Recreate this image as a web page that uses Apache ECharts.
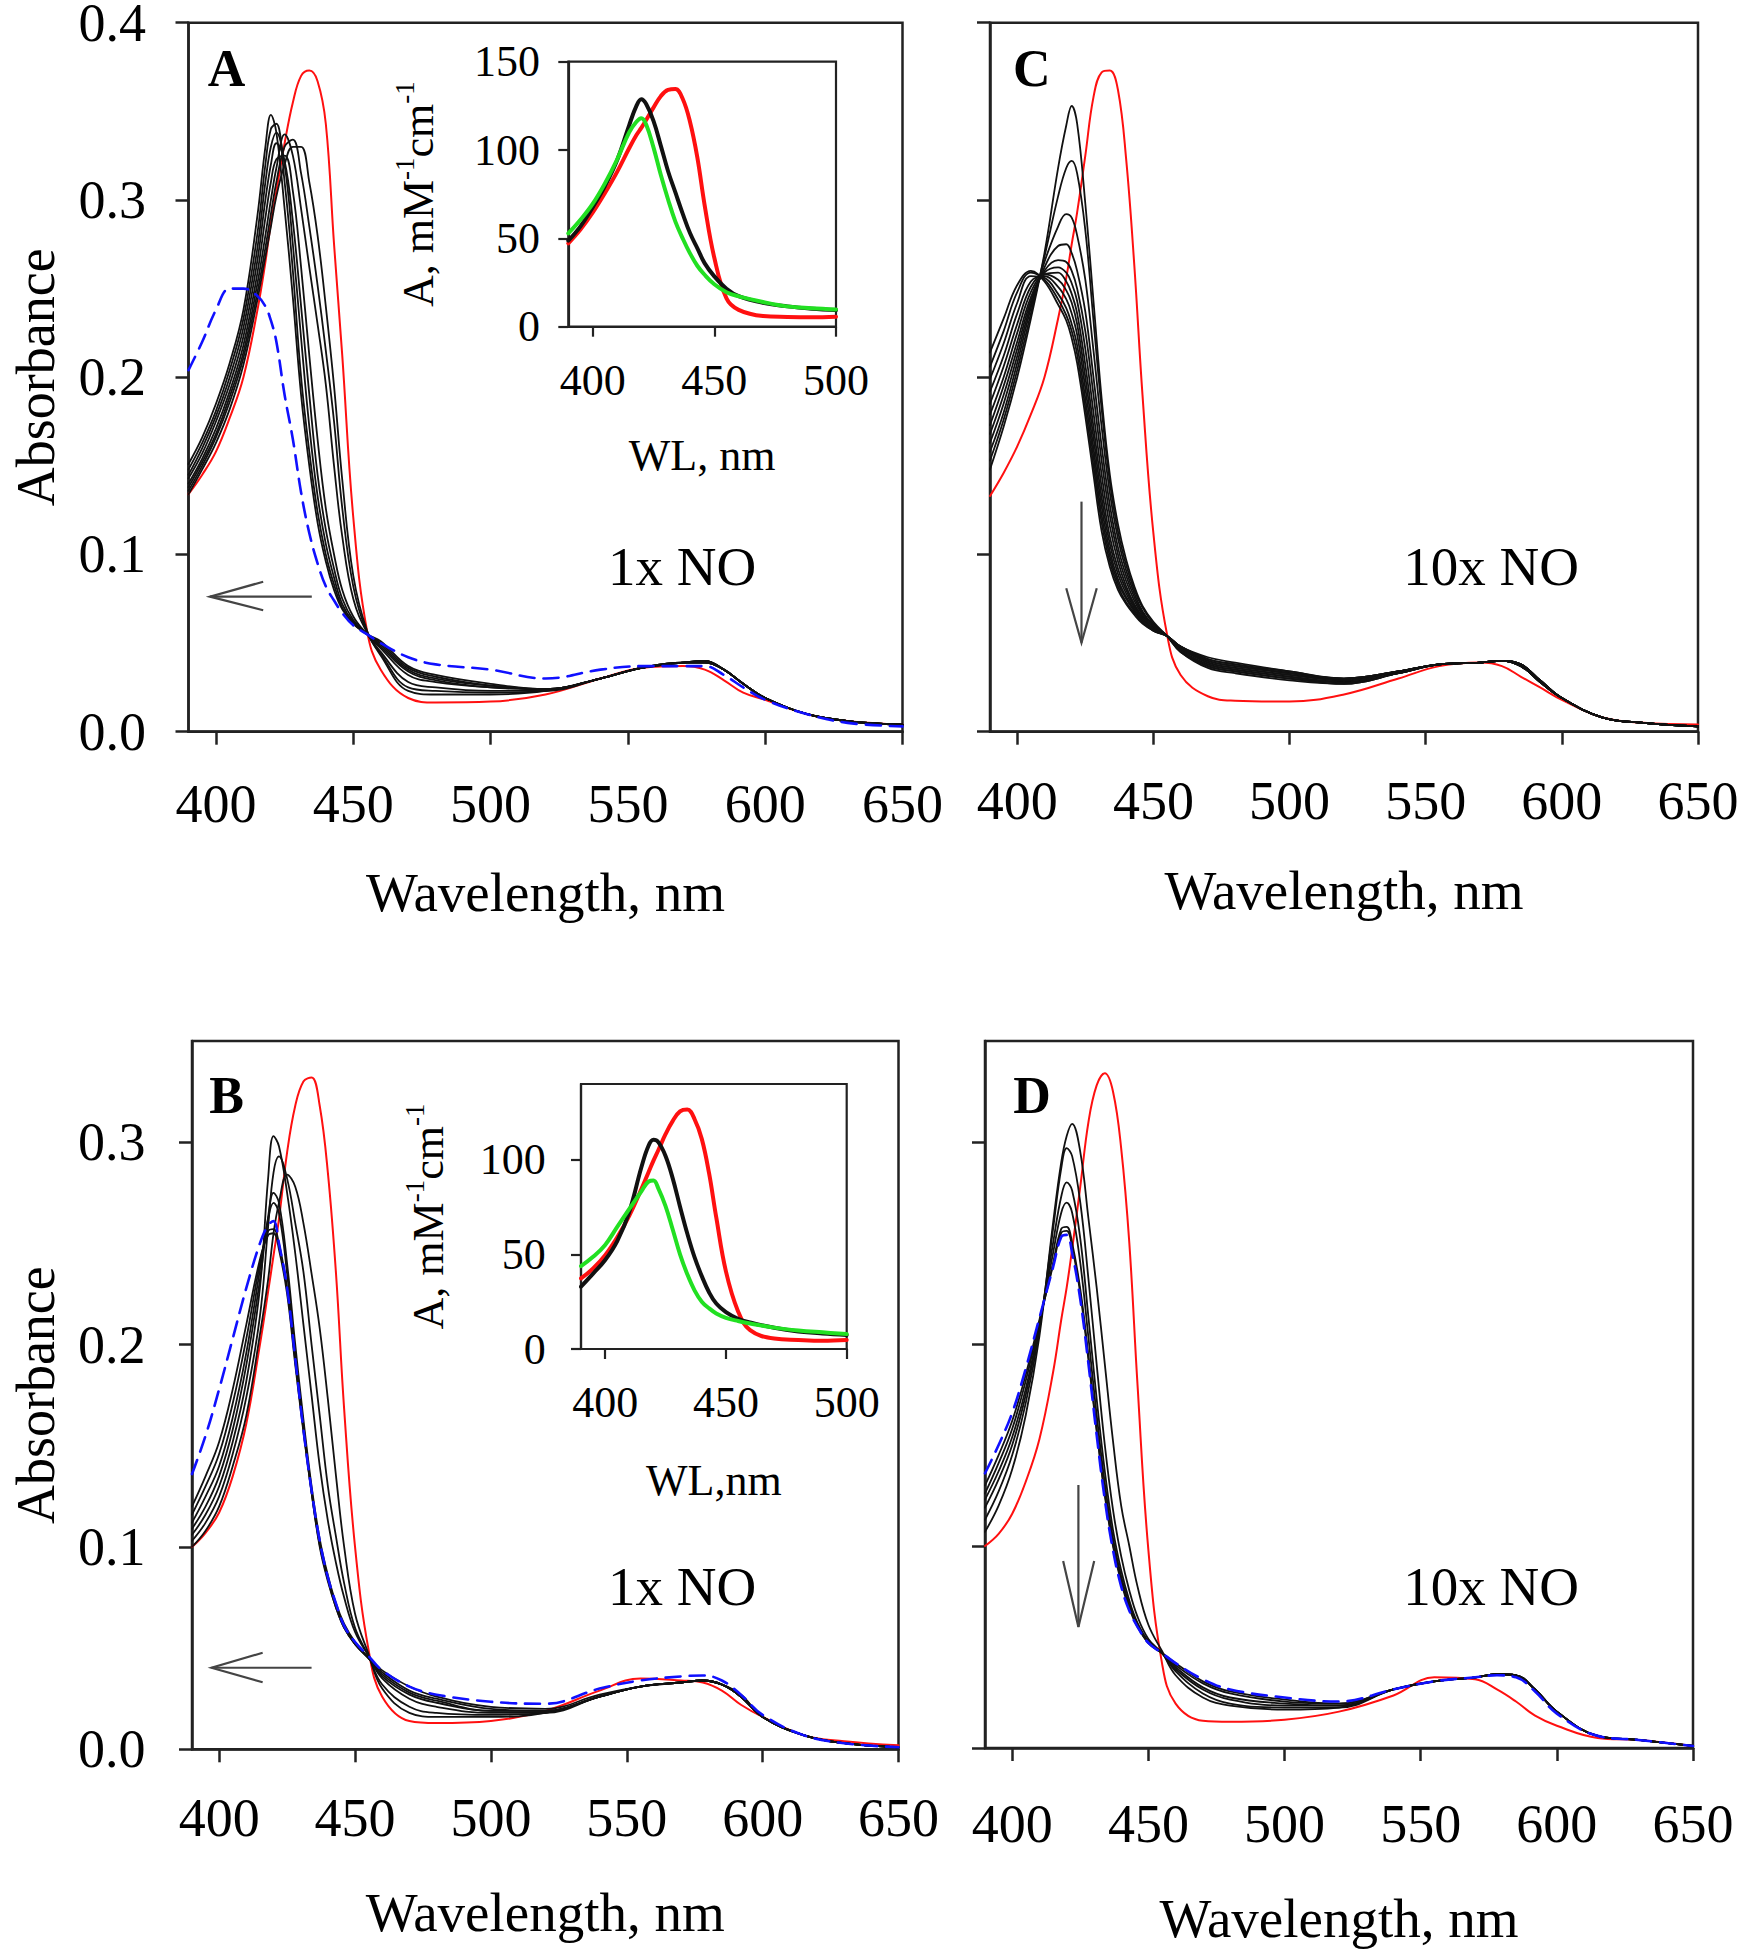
<!DOCTYPE html>
<html><head><meta charset="utf-8">
<script src="https://cdn.jsdelivr.net/npm/echarts@6/dist/echarts.min.js"></script>
<style>html,body{margin:0;padding:0;background:#fff}#c{width:1740px;height:1950px}</style>
</head><body><div id="c"></div>
<script>
// ---------- wavelength grids & tick labels ----------
const WL = [390,395,400,405,410,415,418,420,422,425,428,431,434,437,440,443,446,450,455,460,470,480,500,520,540,555,570,578,585,592,600,615,630,650];
const WLi = [390,395,400,405,410,415,418,420,422,425,428,431,434,437,440,443,446,450,455,460,470,480,490,500];
const xTicksMain = [400,450,500,550,600,650];
const xTicksInset = [400,450,500];
const yTicksAC = [0,0.1,0.2,0.3,0.4];
const yTicksBD = [0,0.1,0.2,0.3];
const yTicksInsetA = [0,50,100,150];
const yTicksInsetB = [0,50,100];

// ---------- Panel A (1x NO) ----------
const redA = [.134,.145,.158,.177,.200,.237,.265,.287,.305,.332,.355,.370,.373,.367,.343,.275,.212,.121,.057,.035,.019,.0165,.017,.021,.030,.036,.037,.035,.029,.022,.018,.010,.006,.004];
const blkA1 = [.134,.148,.163,.182,.207,.243,.268,.285,.302,.320,.330,.330,.310,.280,.240,.195,.142,.088,.057,.043,.023,.021,.021,.023,.030,.036,.039,.040,.035,.027,.019,.010,.006,.004];
const blkA2 = [.136,.150,.166,.186,.211,.247,.273,.292,.310,.330,.334,.315,.285,.252,.215,.175,.126,.082,.056,.044,.025,.023,.022,.023,.030,.036,.039,.040,.035,.027,.019,.010,.006,.004];
const blkA3 = [.138,.152,.168,.189,.214,.252,.280,.300,.318,.337,.325,.295,.262,.230,.196,.150,.110,.075,.056,.045,.028,.025,.023,.023,.030,.036,.039,.040,.035,.027,.019,.010,.006,.004];
const blkA4 = [.140,.154,.171,.192,.218,.258,.290,.310,.323,.325,.305,.262,.212,.165,.126,.100,.080,.065,.055,.047,.032,.028,.025,.024,.030,.036,.039,.040,.035,.027,.019,.010,.006,.004];
const blkA5 = [.143,.157,.175,.196,.223,.265,.300,.320,.332,.322,.288,.240,.190,.145,.114,.092,.075,.063,.055,.048,.034,.029,.025,.024,.030,.036,.039,.039,.035,.027,.019,.010,.006,.004];
const blkA6 = [.145,.160,.178,.200,.228,.272,.310,.330,.338,.320,.275,.222,.172,.133,.106,.087,.072,.062,.055,.049,.035,.030,.026,.024,.030,.036,.039,.039,.035,.027,.019,.010,.006,.004];
const blkA7 = [.148,.163,.181,.204,.233,.280,.320,.340,.343,.310,.260,.200,.158,.124,.100,.083,.070,.061,.055,.050,.036,.031,.026,.024,.030,.036,.039,.039,.035,.027,.019,.010,.006,.004];
const blkA8 = [.151,.166,.185,.208,.238,.290,.330,.348,.338,.295,.245,.190,.150,.118,.096,.080,.069,.061,.055,.051,.037,.032,.027,.024,.030,.036,.039,.039,.035,.027,.019,.010,.006,.004];
const blueA = [.204,.220,.238,.250,.250,.246,.240,.232,.220,.190,.165,.135,.112,.095,.082,.074,.067,.060,.055,.050,.042,.038,.035,.030,.035,.037,.037,.037,.032,.025,.018,.010,.005,.003];

// ---------- Panel C (10x NO) ----------
const redC = [.133,.146,.161,.179,.200,.233,.256,.275,.293,.325,.358,.372,.373,.362,.323,.263,.190,.112,.055,.032,.020,.0175,.017,.021,.030,.037,.039,.037,.031,.025,.018,.008,.005,.004];
const blkC1 = [.148,.172,.200,.233,.270,.318,.342,.353,.343,.298,.243,.188,.145,.117,.097,.082,.071,.062,.054,.045,.036,.033,.029,.027,.033,.038,.039,.040,.037,.028,.019,.008,.005,.003];
const blkC2 = [.153,.176,.204,.236,.268,.302,.318,.322,.315,.283,.232,.182,.141,.113,.094,.080,.070,.061,.054,.045,.037,.034,.030,.027,.033,.038,.039,.040,.037,.028,.019,.008,.005,.003];
const blkC3 = [.158,.180,.208,.239,.265,.285,.292,.290,.280,.255,.215,.172,.135,.109,.091,.078,.068,.060,.054,.046,.037,.034,.030,.028,.033,.038,.039,.040,.037,.028,.019,.008,.005,.003];
const blkC4 = [.163,.185,.212,.241,.262,.274,.275,.270,.260,.237,.200,.161,.128,.104,.088,.076,.067,.060,.054,.046,.038,.035,.031,.028,.033,.038,.039,.040,.037,.028,.019,.008,.005,.003];
const blkC5 = [.168,.190,.216,.243,.260,.266,.265,.260,.250,.226,.190,.153,.122,.100,.085,.074,.066,.059,.054,.046,.038,.035,.031,.028,.033,.038,.039,.040,.037,.028,.019,.008,.005,.003];
const blkC6 = [.173,.195,.220,.245,.259,.262,.259,.253,.243,.216,.180,.145,.116,.096,.082,.072,.065,.059,.054,.047,.039,.036,.032,.029,.034,.038,.039,.040,.037,.028,.019,.008,.005,.003];
const blkC7 = [.179,.200,.225,.248,.258,.259,.254,.247,.236,.207,.172,.138,.110,.092,.080,.071,.064,.058,.054,.047,.039,.036,.032,.029,.034,.038,.039,.040,.037,.029,.019,.008,.005,.003];
const blkC8 = [.185,.206,.230,.251,.258,.255,.249,.242,.230,.200,.166,.132,.106,.089,.078,.070,.064,.058,.054,.047,.040,.037,.033,.029,.034,.038,.039,.040,.038,.029,.019,.008,.005,.003];
const blkC9 = [.192,.212,.236,.254,.257,.251,.244,.236,.224,.194,.160,.127,.102,.086,.076,.069,.063,.058,.054,.048,.040,.037,.033,.030,.034,.038,.039,.040,.038,.029,.019,.008,.005,.003];
const blkC10 = [.199,.219,.242,.257,.256,.247,.239,.230,.218,.188,.155,.122,.099,.084,.075,.068,.062,.057,.054,.048,.041,.038,.033,.030,.034,.038,.039,.040,.038,.029,.019,.008,.005,.003];
const blkC11 = [.206,.226,.248,.259,.255,.244,.235,.226,.213,.183,.150,.118,.096,.082,.073,.067,.062,.057,.054,.048,.041,.038,.034,.030,.034,.038,.039,.040,.038,.029,.019,.008,.005,.003];
const blkC12 = [.214,.233,.252,.260,.254,.241,.232,.222,.208,.178,.145,.113,.093,.080,.072,.066,.061,.057,.054,.048,.042,.039,.034,.030,.034,.038,.039,.040,.038,.029,.019,.008,.005,.003];

// ---------- Panel B (1x NO) ----------
const redB = [.100,.107,.117,.135,.161,.200,.226,.244,.262,.295,.318,.330,.332,.318,.285,.235,.168,.100,.049,.026,.014,.013,.014,.019,.029,.035,.034,.033,.029,.022,.016,.007,.004,.002];
const blkB1 = [.100,.108,.120,.140,.165,.205,.232,.255,.270,.284,.278,.260,.235,.208,.173,.135,.100,.067,.047,.030,.018,.016,.016,.018,.026,.031,.033,.034,.032,.027,.016,.007,.003,.001];
const blkB2 = [.103,.112,.125,.146,.174,.214,.258,.285,.293,.282,.260,.236,.200,.165,.130,.105,.082,.060,.046,.032,.021,.018,.017,.018,.026,.031,.033,.034,.032,.027,.016,.007,.003,.001];
const blkB3 = [.106,.116,.130,.152,.182,.228,.282,.303,.298,.275,.245,.210,.175,.140,.113,.092,.075,.058,.046,.035,.025,.021,.018,.018,.026,.031,.033,.034,.032,.026,.016,.007,.003,.001];
const blkB4 = [.109,.120,.135,.158,.190,.232,.263,.275,.270,.240,.200,.163,.130,.104,.086,.072,.062,.053,.045,.036,.027,.023,.019,.019,.026,.031,.033,.034,.032,.026,.016,.007,.003,.001];
const blkB5 = [.112,.125,.140,.164,.196,.237,.262,.270,.265,.235,.195,.160,.128,.102,.085,.071,.061,.052,.045,.037,.028,.024,.019,.019,.026,.031,.033,.034,.032,.026,.016,.007,.003,.001];
const blkB6 = [.116,.130,.146,.171,.203,.240,.256,.257,.250,.228,.192,.158,.127,.101,.084,.070,.060,.052,.045,.038,.029,.025,.020,.019,.026,.031,.033,.034,.032,.026,.016,.007,.003,.001];
const blkB7 = [.120,.135,.152,.178,.210,.242,.254,.255,.247,.225,.190,.157,.127,.100,.083,.070,.060,.052,.045,.039,.031,.026,.021,.020,.027,.031,.033,.034,.032,.026,.016,.007,.003,.001];
const blueB = [.136,.155,.178,.203,.228,.250,.259,.261,.250,.228,.193,.158,.128,.103,.085,.072,.061,.053,.046,.039,.031,.027,.0235,.0225,.030,.034,.036,.0365,.034,.027,.017,.007,.003,.001];

// ---------- Panel D (10x NO) ----------
const redD = [.100,.106,.116,.132,.153,.186,.212,.228,.247,.278,.310,.328,.334,.325,.297,.250,.180,.098,.042,.022,.0135,.013,.014,.018,.026,.035,.034,.029,.023,.016,.011,.005,.004,.001];
const blkD1 = [.107,.120,.138,.165,.204,.260,.290,.303,.309,.295,.262,.228,.190,.152,.120,.100,.080,.061,.048,.036,.025,.021,.019,.020,.029,.033,.035,.0365,.036,.029,.018,.006,.004,.001];
const blkD2 = [.113,.127,.145,.171,.207,.257,.287,.297,.293,.270,.232,.190,.150,.118,.095,.078,.065,.054,.047,.038,.027,.022,.020,.020,.029,.033,.035,.0365,.036,.029,.018,.006,.004,.001];
const blkD3 = [.119,.133,.150,.175,.209,.250,.273,.280,.276,.252,.213,.173,.137,.108,.088,.073,.062,.053,.047,.039,.029,.024,.021,.021,.029,.033,.035,.0365,.036,.029,.018,.006,.004,.001];
const blkD4 = [.123,.137,.154,.178,.210,.245,.265,.270,.265,.240,.203,.165,.131,.104,.085,.071,.061,.052,.047,.040,.030,.025,.022,.021,.029,.033,.035,.0365,.036,.029,.018,.006,.004,.001];
const blkD5 = [.126,.141,.158,.182,.211,.240,.257,.258,.250,.227,.194,.158,.126,.101,.083,.070,.061,.052,.047,.041,.032,.027,.023,.022,.029,.033,.035,.0365,.036,.029,.018,.006,.004,.001];
const blkD6 = [.130,.145,.162,.185,.212,.239,.255,.256,.248,.225,.192,.157,.125,.100,.082,.069,.060,.052,.047,.042,.033,.028,.024,.022,.029,.033,.035,.0365,.036,.029,.018,.006,.004,.001];
const blueD = [.136,.150,.166,.188,.213,.238,.253,.254,.245,.222,.190,.155,.123,.098,.080,.068,.060,.052,.047,.042,.034,.029,.025,.023,.029,.033,.035,.036,.035,.028,.017,.006,.004,.001];

// ---------- Insets (A, mM-1 cm-1) ----------
const insA_red = [47.2,55,64.5,75.5,87.5,101,108.5,112.5,117,124,130.5,134,134.5,129,116,96,69,39,16,9.5,6,5.5,5.3,5.7];
const insA_black = [48.7,56.8,67.5,79.5,94,114,125,128.7,126,116.5,102.5,88,76,64,53,44.5,36,28.5,21.5,17.3,13.5,11.5,10.2,9.4];
const insA_green = [52.8,60.5,69.5,81,94.5,110,116,118,114.5,101.5,86,72,59.5,50,41.5,34.5,29.4,24,19.5,17.2,14,11.5,10.5,9.8];
const insB_red = [37.3,42.5,49.5,59,70.5,84.5,93.5,99.5,105,113.5,120.5,125.5,126.5,121.5,111,93,69.5,41,20,10,5.5,4.8,4.4,4.8];
const insB_black = [32.9,39.8,47,57,72.5,96,107.5,110.5,109.3,102,90,75.2,61,48.5,38.5,30,24,19.5,16,14,11.2,9.3,8.2,7.4];
const insB_green = [43.8,48.7,55,64.5,74,83.3,88.5,89,84.9,75.5,63,50,39.5,31,25,21.5,18.8,16.5,14.8,13.5,11.3,9.8,8.8,7.9];

// ---------- build chart ----------
const FONT = '"Liberation Serif","Times New Roman",serif';
const AX = '#222';
const chart = echarts.init(document.getElementById('c'), null, {renderer:'svg', width:1740, height:1950});

const gridDefs = [
  {left:188.5, top:22.7, width:714, height:709},     // 0 A
  {left:990, top:22.7, width:708, height:709},       // 1 C
  {left:192, top:1041, width:706.5, height:708.3},   // 2 B
  {left:985, top:1041, width:708, height:707},       // 3 D
  {left:568.3, top:61.7, width:267.7, height:265},   // 4 inset A
  {left:581, top:1084, width:265.7, height:265}      // 5 inset B
];
const grids = gridDefs.map((g,i) => Object.assign({show:true, borderColor:AX, borderWidth: i<4?2.5:2.2,
  backgroundColor: i<4 ? 'transparent' : '#fff', containLabel:false, outerBoundsMode:'none'}, g));

function xAxisMain(gi, margin, nameGap){
  return {type:'value', gridIndex:gi, min:390, max:650,
    axisLine:{show:true, onZero:false, lineStyle:{color:AX, width:2.5}},
    axisTick:{show:true, length:13, customValues:xTicksMain, lineStyle:{color:AX, width:2.5}},
    axisLabel:{show:true, margin, customValues:xTicksMain, fontSize:54, fontFamily:FONT, color:'#000'},
    splitLine:{show:false},
    name:'Wavelength, nm', nameLocation:'middle', nameGap,
    nameTextStyle:{fontSize:55, fontFamily:FONT, color:'#000'}};
}
function yAxisMain(gi, max, ticks, showLabel, margin, nameGap){
  const o = {type:'value', gridIndex:gi, min:0, max,
    axisLine:{show:true, onZero:false, lineStyle:{color:AX, width:2.5}},
    axisTick:{show:true, length:13, customValues:ticks, lineStyle:{color:AX, width:2.5}},
    axisLabel:{show:showLabel, margin, customValues:ticks, fontSize:54, lineHeight:40, fontFamily:FONT, color:'#000',
      formatter: v => Number(v).toFixed(1)},
    splitLine:{show:false}};
  if (showLabel) {
    o.name = 'Absorbance'; o.nameLocation = 'middle'; o.nameGap = nameGap;
    o.nameTextStyle = {fontSize:54, lineHeight:44, fontFamily:FONT, color:'#000'};
  }
  return o;
}
function xAxisInset(gi, name, margin, nameGap){
  return {type:'value', gridIndex:gi, min:390, max:500,
    axisLine:{show:true, onZero:false, lineStyle:{color:AX, width:2.2}},
    axisTick:{show:true, length:10, customValues:xTicksInset, lineStyle:{color:AX, width:2.2}},
    axisLabel:{show:true, margin, customValues:xTicksInset, fontSize:44, fontFamily:FONT, color:'#000'},
    splitLine:{show:false},
    name, nameLocation:'middle', nameGap,
    nameTextStyle:{fontSize:44, fontFamily:FONT, color:'#000'}};
}
function yAxisInset(gi, max, ticks, margin, nameGap){
  return {type:'value', gridIndex:gi, min:0, max,
    axisLine:{show:true, onZero:false, lineStyle:{color:AX, width:2.2}},
    axisTick:{show:true, length:10, customValues:ticks, lineStyle:{color:AX, width:2.2}},
    axisLabel:{show:true, margin, customValues:ticks, fontSize:44, lineHeight:34, fontFamily:FONT, color:'#000'},
    splitLine:{show:false},
    name:'{m|A, mM}{s|-1}{m|cm}{s|-1}', nameLocation:'middle', nameGap,
    nameTextStyle:{fontSize:44, fontFamily:FONT, color:'#000',
      rich:{m:{fontSize:44, fontFamily:FONT, color:'#000', lineHeight:54},
            s:{fontSize:27, fontFamily:FONT, color:'#000', lineHeight:27, verticalAlign:'top'}}}};
}

const series = [];
function addLine(gi, xs, arr, color, width, dash, z){
  series.push({type:'line', xAxisIndex:gi, yAxisIndex:gi, data: xs.map((w,i)=>[w, arr[i]]),
    showSymbol:false, symbol:'none', smooth:0.4, silent:true, z: z||2,
    lineStyle:{color, width, type: dash || 'solid', join:'round', cap:'round'}});
}
const BLK = '#111', RED = '#ff1010', BLUE = '#1010ff', GREEN = '#22e022';
const DASH = [15, 9];
// A
addLine(0, WL, redA, RED, 2);
[blkA1,blkA2,blkA3,blkA4,blkA5,blkA6,blkA7,blkA8].forEach(a => addLine(0, WL, a, BLK, 1.8, null, 3));
addLine(0, WL, blueA, BLUE, 2.6, DASH, 4);
// C
addLine(1, WL, redC, RED, 2);
[blkC1,blkC2,blkC3,blkC4,blkC5,blkC6,blkC7,blkC8,blkC9,blkC10,blkC11,blkC12].forEach(a => addLine(1, WL, a, BLK, 1.8, null, 3));
// B
addLine(2, WL, redB, RED, 2);
[blkB1,blkB2,blkB3,blkB4,blkB5,blkB6,blkB7].forEach(a => addLine(2, WL, a, BLK, 1.8, null, 3));
addLine(2, WL, blueB, BLUE, 2.6, DASH, 4);
// D
addLine(3, WL, redD, RED, 2);
[blkD1,blkD2,blkD3,blkD4,blkD5,blkD6].forEach(a => addLine(3, WL, a, BLK, 1.8, null, 3));
addLine(3, WL, blueD, BLUE, 2.6, DASH, 4);
// insets
addLine(4, WLi, insA_red, RED, 4, null, 5);
addLine(4, WLi, insA_black, BLK, 4, null, 6);
addLine(4, WLi, insA_green, GREEN, 4, null, 7);
addLine(5, WLi, insB_red, RED, 4, null, 5);
addLine(5, WLi, insB_black, BLK, 4, null, 6);
addLine(5, WLi, insB_green, GREEN, 4, null, 7);

chart.setOption({
  animation:false,
  backgroundColor:'#fff',
  grid: grids,
  xAxis: [xAxisMain(0,45,133), xAxisMain(1,42,131), xAxisMain(2,42,136), xAxisMain(3,49,143),
          xAxisInset(4,'WL, nm',31.5,106.5), xAxisInset(5,'WL,nm',31,109)],
  yAxis: [yAxisMain(0,0.4,yTicksAC,true,42.6,131), yAxisMain(1,0.4,yTicksAC,false,40,0),
          yAxisMain(2,0.35,yTicksBD,true,46.5,134.5), yAxisMain(3,0.35,yTicksBD,false,40,0),
          yAxisInset(4,150,yTicksInsetA,28.3,123), yAxisInset(5,140,yTicksInsetB,35.3,126)],
  series
});

// ---------- annotations (positioned in data coordinates) ----------
const px = (gi, x, y) => chart.convertToPixel({gridIndex:gi}, [x, y]);
function hArrow(gi, xTail, xTip, y, xArm, yArm1, yArm2){
  const a = px(gi,xTail,y), b = px(gi,xTip,y), c1 = px(gi,xArm,yArm1), c2 = px(gi,xArm,yArm2);
  return [{type:'polyline', shape:{points:[a,b]}, style:{stroke:'#444', lineWidth:2.2, fill:null}, z:20},
          {type:'polyline', shape:{points:[c1,b,c2]}, style:{stroke:'#444', lineWidth:2.2, fill:null}, z:20}];
}
function vArrow(gi, x, yTop, yTip, xArm1, xArm2, yArm){
  const a = px(gi,x,yTop), b = px(gi,x,yTip), c1 = px(gi,xArm1,yArm), c2 = px(gi,xArm2,yArm);
  return [{type:'polyline', shape:{points:[a,b]}, style:{stroke:'#444', lineWidth:2.2, fill:null}, z:20},
          {type:'polyline', shape:{points:[c1,b,c2]}, style:{stroke:'#444', lineWidth:2.2, fill:null}, z:20}];
}
function txt(x, y, text, size, bold){
  return {type:'text', x, y, z:20, style:{text, fill:'#000', fontSize:size, fontFamily:FONT,
    fontWeight: bold ? 'bold' : 'normal', align:'center', verticalAlign:'middle'}};
}
const graphics = [].concat(
  hArrow(0, 434.9, 397.8, 0.0762, 417.2, 0.0846, 0.0685),
  hArrow(2, 434.0, 397.2, 0.0403, 416.0, 0.0477, 0.0331),
  vArrow(1, 423.6, 0.1298, 0.0502, 418.0, 429.2, 0.0809),
  vArrow(3, 424.3, 0.1302, 0.0599, 418.7, 430.1, 0.0926),
  [txt(226.5, 68, 'A', 52, true), txt(226.5, 1095, 'B', 52, true),
   txt(1031.7, 68, 'C', 52, true), txt(1032, 1095, 'D', 52, true),
   txt(682, 566, '1x NO', 55), txt(682, 1586, '1x NO', 55),
   txt(1491, 566, '10x NO', 55), txt(1491, 1586, '10x NO', 55)]
);
chart.setOption({graphic: graphics});
</script>
</body></html>
